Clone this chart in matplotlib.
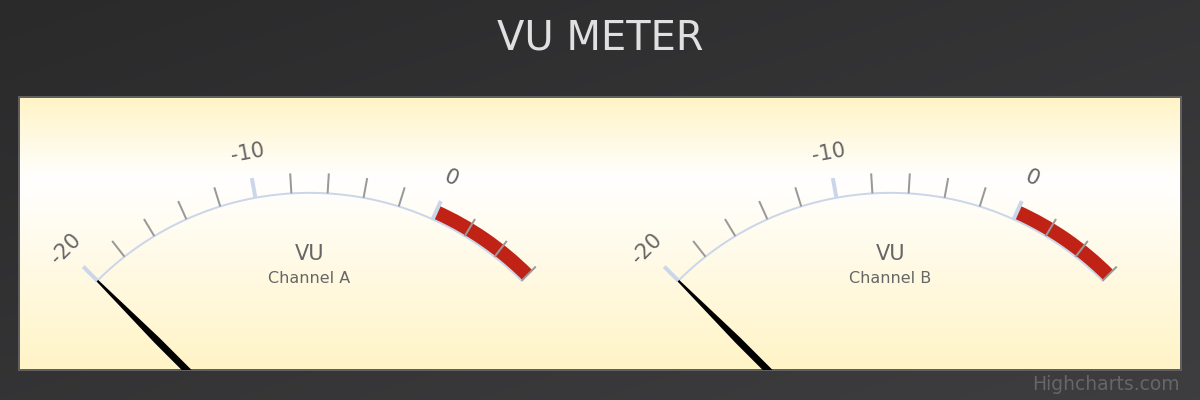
import numpy as np
import matplotlib
matplotlib.use('Agg')
import matplotlib.pyplot as plt
from matplotlib.colors import LinearSegmentedColormap
from matplotlib.patches import Polygon

# ---------------- data ----------------
chart_title = 'VU METER'
channels = ['Channel A', 'Channel B']
needle_values = [-20, -20]
axis_min, axis_max = -20, 6
major_ticks = [-20, -10, 0]
major_labels = ['-20', '-10', '0']
minor_ticks = [-18, -16, -14, -12, -8, -6, -4, -2, 2, 4, 6]
band_from, band_to = 0, 6
pane_center_x = [0.25, 0.75]
pane_center_y = 1.45
credits = 'Highcharts.com'

# ---------------- layout ----------------
W, H, DPI = 1200, 400, 100
PL, PR, PT, PB = 19, 1181, 97, 370  # plot area in pixels
R = 300                            # gauge radius in px
RMAX = 1.3

fig = plt.figure(figsize=(W / DPI, H / DPI), dpi=DPI)

# figure background (diagonal gradient)
bg = fig.add_axes([0, 0, 1, 1])
bg.set_xlim(0, 1); bg.set_ylim(0, 1); bg.axis('off')
yy, xx = np.mgrid[0:1:200j, 0:1:600j]
cmap_bg = LinearSegmentedColormap.from_list('bg', ['#2a2a2b', '#3e3e40'])
bg.imshow((xx + yy) / 2, cmap=cmap_bg, extent=[0, 1, 0, 1], origin='upper',
          aspect='auto', vmin=0, vmax=1)

# plot area with vertical gradient
pa = fig.add_axes([PL / W, 1 - PB / H, (PR - PL) / W, (PB - PT) / H])
cmap_pa = LinearSegmentedColormap.from_list(
    'pa', [(0, '#FFF4C6'), (0.3, '#FFFFFF'), (1, '#FFF4C6')])
pa.imshow(np.linspace(0, 1, 256)[:, None], cmap=cmap_pa, extent=[0, 1, 0, 1],
          origin='upper', aspect='auto', vmin=0, vmax=1)
pa.set_xlim(0, 1); pa.set_ylim(0, 1)
pa.set_xticks([]); pa.set_yticks([])
for s in pa.spines.values():
    s.set_color('#606063')
    s.set_linewidth(1.44)


def ang(v):
    return np.deg2rad(-45 + 90 * (v - axis_min) / (axis_max - axis_min))


tick_len = 20 / R
for cxf, ch, val in zip(pane_center_x, channels, needle_values):
    cx = PL + cxf * (PR - PL)
    cy = PT + pane_center_y * (PB - PT)
    size = 2 * RMAX * R
    ax = fig.add_axes([(cx - size / 2) / W, (H - cy - size / 2) / H, size / W, size / H],
                      projection='polar')
    ax.set_theta_zero_location('N')
    ax.set_theta_direction(-1)
    ax.set_ylim(0, RMAX)
    ax.axis('off')
    ax.patch.set_alpha(0)

    # plot band
    a0, a1 = ang(band_from), ang(band_to)
    ax.bar((a0 + a1) / 2, 0.05, width=a1 - a0, bottom=1.0, color='#C02316',
           linewidth=0, zorder=1)

    # axis line
    th = np.linspace(ang(axis_min), ang(axis_max), 300)
    ax.plot(th, np.ones_like(th), color='#ccd6eb', lw=1.44, zorder=2)

    # minor ticks
    for v in minor_ticks:
        a = ang(v)
        ax.plot([a, a], [1, 1 + tick_len], color='#999999', lw=1.44,
                solid_capstyle='butt', zorder=3)
    # major ticks + labels
    for v, lbl in zip(major_ticks, major_labels):
        a = ang(v)
        ax.plot([a, a], [1, 1 + tick_len], color='#ccd6eb', lw=2.88,
                solid_capstyle='butt', zorder=3)
        ax.text(a, 1.15, lbl, rotation=-np.rad2deg(a), rotation_mode='anchor',
                ha='center', va='center', fontsize=15, color='#666666', zorder=4)

    # axis title
    ax.text(0, (cy - 260) / R, 'VU', ha='center', va='baseline', fontsize=15,
            color='#666666', zorder=4)
    ax.text(0, (cy - 283) / R, ch, ha='center', va='baseline', fontsize=11.5,
            color='#666666', zorder=4)

    # needle
    a = ang(val)

    def d(r, w):
        return np.arcsin(w / (R * r))
    pts = [(a - d(0.4, 3.5), 0.4), (a - d(0.72, 3.5), 0.72), (a - d(1.0, 1.1), 1.0),
           (a + d(1.0, 1.1), 1.0), (a + d(0.72, 3.5), 0.72), (a + d(0.4, 3.5), 0.4)]
    needle = Polygon(pts, closed=True, facecolor='black', edgecolor='none', zorder=5)
    ax.add_patch(needle)
    needle.set_clip_path(pa.patch)

fig.text(0.5, 1 - 50 / H, chart_title, ha='center', va='baseline', fontsize=28.8,
         color='#E0E0E3')
fig.text(1180 / W, 1 - 390 / H, credits, ha='right', va='baseline', fontsize=13.5,
         color='#666666')

fig.savefig('out.png', dpi=DPI)
